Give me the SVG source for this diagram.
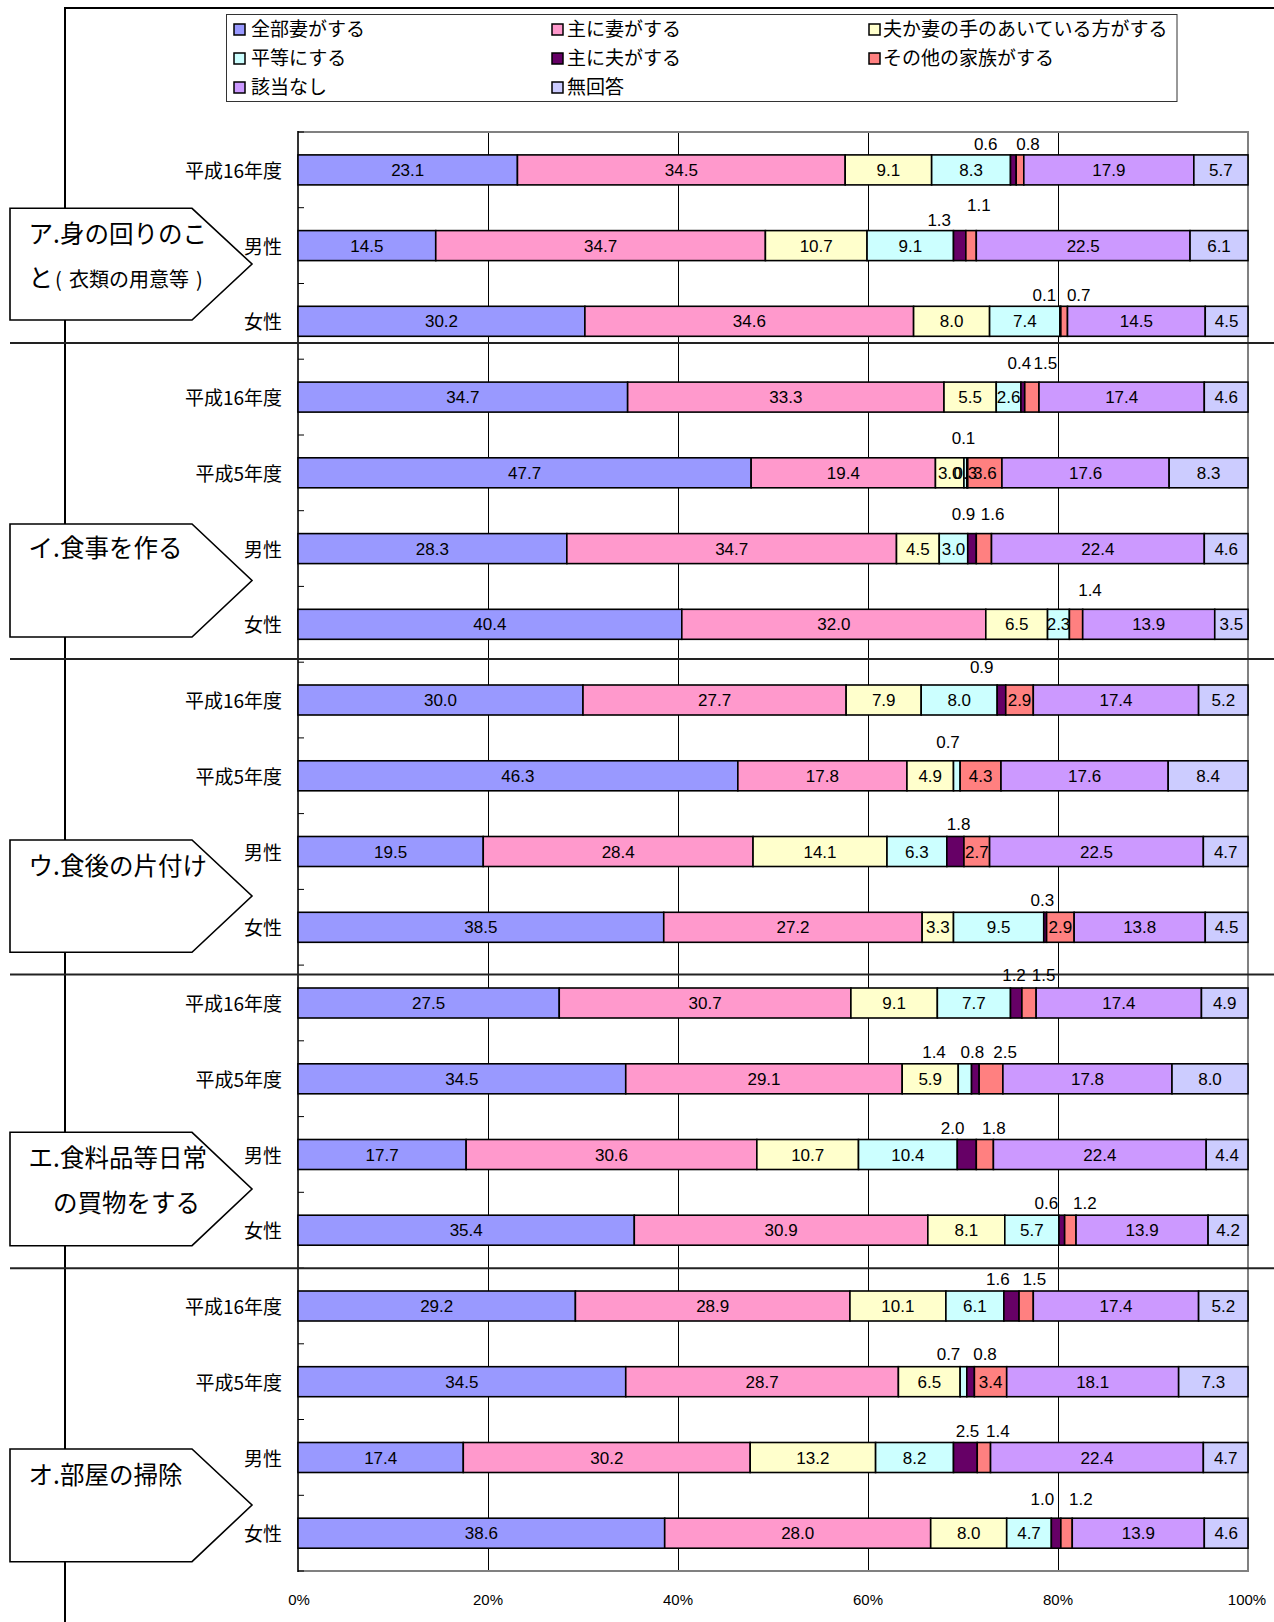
<svg xmlns="http://www.w3.org/2000/svg" width="1274" height="1622" viewBox="0 0 1274 1622">
<style>
.s1{fill:#9999FF}.s2{fill:#FF99CC}.s3{fill:#FFFFCC}.s4{fill:#CCFFFF}.s5{fill:#660066}.s6{fill:#FF8080}.s7{fill:#CC99FF}.s8{fill:#CCCCFF}
.bar rect{stroke:#000;stroke-width:1.6}
.v{font-family:"Liberation Sans",Arial,sans-serif;font-size:17px;text-anchor:middle;fill:#000}
.ax{font-family:"Liberation Sans",Arial,sans-serif;font-size:15px;text-anchor:middle;fill:#000}
.rl{font-family:"Noto Sans CJK JP",sans-serif;font-size:19px;text-anchor:end;fill:#000}
.lg{font-family:"Noto Sans CJK JP",sans-serif;font-size:19px;fill:#000}
.lgk{stroke:#000;stroke-width:1.5}
.cat{font-family:"Noto Sans CJK JP",sans-serif;font-size:24.5px;fill:#000}
.box{fill:#fff;stroke:#000;stroke-width:1.6}
.grid{stroke:#000;stroke-width:1}
.sep{stroke:#222;stroke-width:2}
</style>
<rect x="0" y="0" width="1274" height="1622" fill="#fff"/>
<g id="frame-lines">
<line x1="65" y1="8" x2="65" y2="1622" stroke="#000" stroke-width="2"/>
<line x1="64" y1="8" x2="1274" y2="8" stroke="#000" stroke-width="2"/>
</g>
<g id="legend">
<rect x="226.5" y="14.5" width="950.5" height="87" fill="#fff" stroke="#333" stroke-width="1"/>
<rect class="lgk s1" x="234" y="24" width="11" height="11"/><text class="lg" x="251" y="35.5">全部妻がする</text>
<rect class="lgk s2" x="552" y="24" width="11" height="11"/><text class="lg" x="567" y="35.5">主に妻がする</text>
<rect class="lgk s3" x="869" y="24" width="11" height="11"/><text class="lg" x="883" y="35.5">夫か妻の手のあいている方がする</text>
<rect class="lgk s4" x="234" y="53" width="11" height="11"/><text class="lg" x="251" y="64.5">平等にする</text>
<rect class="lgk s5" x="552" y="53" width="11" height="11"/><text class="lg" x="567" y="64.5">主に夫がする</text>
<rect class="lgk s6" x="869" y="53" width="11" height="11"/><text class="lg" x="883" y="64.5">その他の家族がする</text>
<rect class="lgk s7" x="234" y="82" width="11" height="11"/><text class="lg" x="251" y="93.5">該当なし</text>
<rect class="lgk s8" x="552" y="82" width="11" height="11"/><text class="lg" x="567" y="93.5">無回答</text>
</g>
<g id="plot-area">
<line class="grid" x1="488.5" y1="132" x2="488.5" y2="1571"/>
<line class="grid" x1="678.5" y1="132" x2="678.5" y2="1571"/>
<line class="grid" x1="868.5" y1="132" x2="868.5" y2="1571"/>
<line class="grid" x1="1058.5" y1="132" x2="1058.5" y2="1571"/>
<polyline points="298,132 1248,132 1248,1571 298,1571" fill="none" stroke="#808080" stroke-width="2"/>
<line x1="298" y1="131" x2="298" y2="1572" stroke="#000" stroke-width="1.6"/>
<path d="M298 132h6M298 207.7h6M298 283.5h6M298 359.2h6M298 435h6M298 510.7h6M298 586.4h6M298 662.2h6M298 737.9h6M298 813.6h6M298 889.4h6M298 965.1h6M298 1040.8h6M298 1116.6h6M298 1192.3h6M298 1268.1h6M298 1343.8h6M298 1419.5h6M298 1495.3h6M298 1571h6" stroke="#000" stroke-width="1"/>
<text class="ax" x="299" y="1605">0%</text>
<text class="ax" x="488" y="1605">20%</text>
<text class="ax" x="678" y="1605">40%</text>
<text class="ax" x="868" y="1605">60%</text>
<text class="ax" x="1058" y="1605">80%</text>
<text class="ax" x="1247" y="1605">100%</text>
</g>
<g id="row-labels">
<text class="rl" x="282" y="177.9">平成16年度</text>
<text class="rl" x="282" y="253.6">男性</text>
<text class="rl" x="282" y="329.3">女性</text>
<text class="rl" x="282" y="405.1">平成16年度</text>
<text class="rl" x="282" y="480.8">平成5年度</text>
<text class="rl" x="282" y="556.6">男性</text>
<text class="rl" x="282" y="632.3">女性</text>
<text class="rl" x="282" y="708">平成16年度</text>
<text class="rl" x="282" y="783.8">平成5年度</text>
<text class="rl" x="282" y="859.5">男性</text>
<text class="rl" x="282" y="935.3">女性</text>
<text class="rl" x="282" y="1011">平成16年度</text>
<text class="rl" x="282" y="1086.8">平成5年度</text>
<text class="rl" x="282" y="1162.5">男性</text>
<text class="rl" x="282" y="1238.2">女性</text>
<text class="rl" x="282" y="1314">平成16年度</text>
<text class="rl" x="282" y="1389.7">平成5年度</text>
<text class="rl" x="282" y="1465.5">男性</text>
<text class="rl" x="282" y="1541.2">女性</text>
</g>
<g id="bar-a-h16" class="bar">
<rect class="s1" x="298" y="154.9" width="219.45" height="30"/><rect class="s2" x="517.45" y="154.9" width="327.75" height="30"/><rect class="s3" x="845.2" y="154.9" width="86.45" height="30"/><rect class="s4" x="931.65" y="154.9" width="78.85" height="30"/><rect class="s5" x="1010.5" y="154.9" width="5.7" height="30"/><rect class="s6" x="1016.2" y="154.9" width="7.6" height="30"/><rect class="s7" x="1023.8" y="154.9" width="170.05" height="30"/><rect class="s8" x="1193.85" y="154.9" width="54.15" height="30"/>
<text class="v" x="407.7" y="175.9">23.1</text><text class="v" x="681.3" y="175.9">34.5</text><text class="v" x="888.4" y="175.9">9.1</text><text class="v" x="971.1" y="175.9">8.3</text><text class="v" x="1108.8" y="175.9">17.9</text><text class="v" x="1220.9" y="175.9">5.7</text>
<text class="v" x="985.7" y="150">0.6</text><text class="v" x="1028" y="150">0.8</text>
</g>
<g id="bar-a-m" class="bar">
<rect class="s1" x="298" y="230.6" width="137.75" height="30"/><rect class="s2" x="435.75" y="230.6" width="329.65" height="30"/><rect class="s3" x="765.4" y="230.6" width="101.65" height="30"/><rect class="s4" x="867.05" y="230.6" width="86.45" height="30"/><rect class="s5" x="953.5" y="230.6" width="12.35" height="30"/><rect class="s6" x="965.85" y="230.6" width="10.45" height="30"/><rect class="s7" x="976.3" y="230.6" width="213.75" height="30"/><rect class="s8" x="1190.05" y="230.6" width="57.95" height="30"/>
<text class="v" x="366.9" y="251.6">14.5</text><text class="v" x="600.6" y="251.6">34.7</text><text class="v" x="816.2" y="251.6">10.7</text><text class="v" x="910.3" y="251.6">9.1</text><text class="v" x="1083.2" y="251.6">22.5</text><text class="v" x="1219" y="251.6">6.1</text>
<text class="v" x="939.2" y="226">1.3</text><text class="v" x="978.9" y="211">1.1</text>
</g>
<g id="bar-a-f" class="bar">
<rect class="s1" x="298" y="306.3" width="286.9" height="30"/><rect class="s2" x="584.9" y="306.3" width="328.7" height="30"/><rect class="s3" x="913.6" y="306.3" width="76" height="30"/><rect class="s4" x="989.6" y="306.3" width="70.3" height="30"/><rect class="s5" x="1059.9" y="306.3" width="0.95" height="30"/><rect class="s6" x="1060.85" y="306.3" width="6.65" height="30"/><rect class="s7" x="1067.5" y="306.3" width="137.75" height="30"/><rect class="s8" x="1205.25" y="306.3" width="42.75" height="30"/>
<text class="v" x="441.5" y="327.3">30.2</text><text class="v" x="749.3" y="327.3">34.6</text><text class="v" x="951.6" y="327.3">8.0</text><text class="v" x="1024.8" y="327.3">7.4</text><text class="v" x="1136.4" y="327.3">14.5</text><text class="v" x="1226.6" y="327.3">4.5</text>
<text class="v" x="1044.4" y="301">0.1</text><text class="v" x="1078.7" y="301">0.7</text>
</g>
<g id="bar-i-h16" class="bar">
<rect class="s1" x="298" y="382.1" width="329.65" height="30"/><rect class="s2" x="627.65" y="382.1" width="316.35" height="30"/><rect class="s3" x="944" y="382.1" width="52.25" height="30"/><rect class="s4" x="996.25" y="382.1" width="24.7" height="30"/><rect class="s5" x="1020.95" y="382.1" width="3.8" height="30"/><rect class="s6" x="1024.75" y="382.1" width="14.25" height="30"/><rect class="s7" x="1039" y="382.1" width="165.3" height="30"/><rect class="s8" x="1204.3" y="382.1" width="43.7" height="30"/>
<text class="v" x="462.8" y="403.1">34.7</text><text class="v" x="785.8" y="403.1">33.3</text><text class="v" x="970.1" y="403.1">5.5</text><text class="v" x="1008.6" y="403.1">2.6</text><text class="v" x="1121.7" y="403.1">17.4</text><text class="v" x="1226.2" y="403.1">4.6</text>
<text class="v" x="1019.3" y="369">0.4</text><text class="v" x="1045.3" y="369">1.5</text>
</g>
<g id="bar-i-h5" class="bar">
<rect class="s1" x="298" y="457.8" width="453.15" height="30"/><rect class="s2" x="751.15" y="457.8" width="184.3" height="30"/><rect class="s3" x="935.45" y="457.8" width="28.5" height="30"/><rect class="s4" x="963.95" y="457.8" width="2.85" height="30"/><rect class="s5" x="966.8" y="457.8" width="0.95" height="30"/><rect class="s6" x="967.75" y="457.8" width="34.2" height="30"/><rect class="s7" x="1001.95" y="457.8" width="167.2" height="30"/><rect class="s8" x="1169.15" y="457.8" width="78.85" height="30"/>
<text class="v" x="524.6" y="478.8">47.7</text><text class="v" x="843.3" y="478.8">19.4</text><text class="v" x="949.7" y="478.8">3.0</text><text class="v" x="965.4" y="478.8">0.3</text><text class="v" x="984.9" y="478.8">3.6</text><text class="v" x="1085.6" y="478.8">17.6</text><text class="v" x="1208.6" y="478.8">8.3</text>
<text class="v" x="963.5" y="444">0.1</text>
</g>
<g id="bar-i-m" class="bar">
<rect class="s1" x="298" y="533.6" width="268.85" height="30"/><rect class="s2" x="566.85" y="533.6" width="329.65" height="30"/><rect class="s3" x="896.5" y="533.6" width="42.75" height="30"/><rect class="s4" x="939.25" y="533.6" width="28.5" height="30"/><rect class="s5" x="967.75" y="533.6" width="8.55" height="30"/><rect class="s6" x="976.3" y="533.6" width="15.2" height="30"/><rect class="s7" x="991.5" y="533.6" width="212.8" height="30"/><rect class="s8" x="1204.3" y="533.6" width="43.7" height="30"/>
<text class="v" x="432.4" y="554.6">28.3</text><text class="v" x="731.7" y="554.6">34.7</text><text class="v" x="917.9" y="554.6">4.5</text><text class="v" x="953.5" y="554.6">3.0</text><text class="v" x="1097.9" y="554.6">22.4</text><text class="v" x="1226.2" y="554.6">4.6</text>
<text class="v" x="963.5" y="520">0.9</text><text class="v" x="992.6" y="520">1.6</text>
</g>
<g id="bar-i-f" class="bar">
<rect class="s1" x="298" y="609.3" width="383.8" height="30"/><rect class="s2" x="681.8" y="609.3" width="304" height="30"/><rect class="s3" x="985.8" y="609.3" width="61.75" height="30"/><rect class="s4" x="1047.55" y="609.3" width="21.85" height="30"/><rect class="s6" x="1069.4" y="609.3" width="13.3" height="30"/><rect class="s7" x="1082.7" y="609.3" width="132.05" height="30"/><rect class="s8" x="1214.75" y="609.3" width="33.25" height="30"/>
<text class="v" x="489.9" y="630.3">40.4</text><text class="v" x="833.8" y="630.3">32.0</text><text class="v" x="1016.7" y="630.3">6.5</text><text class="v" x="1058.5" y="630.3">2.3</text><text class="v" x="1148.7" y="630.3">13.9</text><text class="v" x="1231.4" y="630.3">3.5</text>
<text class="v" x="1090" y="596">1.4</text>
</g>
<g id="bar-u-h16" class="bar">
<rect class="s1" x="298" y="685" width="285" height="30"/><rect class="s2" x="583" y="685" width="263.15" height="30"/><rect class="s3" x="846.15" y="685" width="75.05" height="30"/><rect class="s4" x="921.2" y="685" width="76" height="30"/><rect class="s5" x="997.2" y="685" width="8.55" height="30"/><rect class="s6" x="1005.75" y="685" width="27.55" height="30"/><rect class="s7" x="1033.3" y="685" width="165.3" height="30"/><rect class="s8" x="1198.6" y="685" width="49.4" height="30"/>
<text class="v" x="440.5" y="706">30.0</text><text class="v" x="714.6" y="706">27.7</text><text class="v" x="883.7" y="706">7.9</text><text class="v" x="959.2" y="706">8.0</text><text class="v" x="1019.5" y="706">2.9</text><text class="v" x="1116" y="706">17.4</text><text class="v" x="1223.3" y="706">5.2</text>
<text class="v" x="981.7" y="672.7">0.9</text>
</g>
<g id="bar-u-h5" class="bar">
<rect class="s1" x="298" y="760.8" width="439.85" height="30"/><rect class="s2" x="737.85" y="760.8" width="169.1" height="30"/><rect class="s3" x="906.95" y="760.8" width="46.55" height="30"/><rect class="s4" x="953.5" y="760.8" width="6.65" height="30"/><rect class="s6" x="960.15" y="760.8" width="40.85" height="30"/><rect class="s7" x="1001" y="760.8" width="167.2" height="30"/><rect class="s8" x="1168.2" y="760.8" width="79.8" height="30"/>
<text class="v" x="517.9" y="781.8">46.3</text><text class="v" x="822.4" y="781.8">17.8</text><text class="v" x="930.2" y="781.8">4.9</text><text class="v" x="980.6" y="781.8">4.3</text><text class="v" x="1084.6" y="781.8">17.6</text><text class="v" x="1208.1" y="781.8">8.4</text>
<text class="v" x="948" y="747.7">0.7</text>
</g>
<g id="bar-u-m" class="bar">
<rect class="s1" x="298" y="836.5" width="185.25" height="30"/><rect class="s2" x="483.25" y="836.5" width="269.8" height="30"/><rect class="s3" x="753.05" y="836.5" width="133.95" height="30"/><rect class="s4" x="887" y="836.5" width="59.85" height="30"/><rect class="s5" x="946.85" y="836.5" width="17.1" height="30"/><rect class="s6" x="963.95" y="836.5" width="25.65" height="30"/><rect class="s7" x="989.6" y="836.5" width="213.75" height="30"/><rect class="s8" x="1203.35" y="836.5" width="44.65" height="30"/>
<text class="v" x="390.6" y="857.5">19.5</text><text class="v" x="618.2" y="857.5">28.4</text><text class="v" x="820" y="857.5">14.1</text><text class="v" x="916.9" y="857.5">6.3</text><text class="v" x="976.8" y="857.5">2.7</text><text class="v" x="1096.5" y="857.5">22.5</text><text class="v" x="1225.7" y="857.5">4.7</text>
<text class="v" x="958.6" y="830.3">1.8</text>
</g>
<g id="bar-u-f" class="bar">
<rect class="s1" x="298" y="912.3" width="365.75" height="30"/><rect class="s2" x="663.75" y="912.3" width="258.4" height="30"/><rect class="s3" x="922.15" y="912.3" width="31.35" height="30"/><rect class="s4" x="953.5" y="912.3" width="90.25" height="30"/><rect class="s5" x="1043.75" y="912.3" width="2.85" height="30"/><rect class="s6" x="1046.6" y="912.3" width="27.55" height="30"/><rect class="s7" x="1074.15" y="912.3" width="131.1" height="30"/><rect class="s8" x="1205.25" y="912.3" width="42.75" height="30"/>
<text class="v" x="480.9" y="933.3">38.5</text><text class="v" x="793" y="933.3">27.2</text><text class="v" x="937.8" y="933.3">3.3</text><text class="v" x="998.6" y="933.3">9.5</text><text class="v" x="1060.4" y="933.3">2.9</text><text class="v" x="1139.7" y="933.3">13.8</text><text class="v" x="1226.6" y="933.3">4.5</text>
<text class="v" x="1042.3" y="906">0.3</text>
</g>
<g id="bar-e-h16" class="bar">
<rect class="s1" x="298" y="988" width="261.25" height="30"/><rect class="s2" x="559.25" y="988" width="291.65" height="30"/><rect class="s3" x="850.9" y="988" width="86.45" height="30"/><rect class="s4" x="937.35" y="988" width="73.15" height="30"/><rect class="s5" x="1010.5" y="988" width="11.4" height="30"/><rect class="s6" x="1021.9" y="988" width="14.25" height="30"/><rect class="s7" x="1036.15" y="988" width="165.3" height="30"/><rect class="s8" x="1201.45" y="988" width="46.55" height="30"/>
<text class="v" x="428.6" y="1009">27.5</text><text class="v" x="705.1" y="1009">30.7</text><text class="v" x="894.1" y="1009">9.1</text><text class="v" x="973.9" y="1009">7.7</text><text class="v" x="1118.8" y="1009">17.4</text><text class="v" x="1224.7" y="1009">4.9</text>
</g>
<g id="bar-e-h5" class="bar">
<rect class="s1" x="298" y="1063.8" width="327.75" height="30"/><rect class="s2" x="625.75" y="1063.8" width="276.45" height="30"/><rect class="s3" x="902.2" y="1063.8" width="56.05" height="30"/><rect class="s4" x="958.25" y="1063.8" width="13.3" height="30"/><rect class="s5" x="971.55" y="1063.8" width="7.6" height="30"/><rect class="s6" x="979.15" y="1063.8" width="23.75" height="30"/><rect class="s7" x="1002.9" y="1063.8" width="169.1" height="30"/><rect class="s8" x="1172" y="1063.8" width="76" height="30"/>
<text class="v" x="461.9" y="1084.8">34.5</text><text class="v" x="764" y="1084.8">29.1</text><text class="v" x="930.2" y="1084.8">5.9</text><text class="v" x="1087.5" y="1084.8">17.8</text><text class="v" x="1210" y="1084.8">8.0</text>
<text class="v" x="934" y="1058.3">1.4</text><text class="v" x="972.4" y="1058.3">0.8</text><text class="v" x="1005.1" y="1058.3">2.5</text>
</g>
<g id="bar-e-m" class="bar">
<rect class="s1" x="298" y="1139.5" width="168.15" height="30"/><rect class="s2" x="466.15" y="1139.5" width="290.7" height="30"/><rect class="s3" x="756.85" y="1139.5" width="101.65" height="30"/><rect class="s4" x="858.5" y="1139.5" width="98.8" height="30"/><rect class="s5" x="957.3" y="1139.5" width="19" height="30"/><rect class="s6" x="976.3" y="1139.5" width="17.1" height="30"/><rect class="s7" x="993.4" y="1139.5" width="212.8" height="30"/><rect class="s8" x="1206.2" y="1139.5" width="41.8" height="30"/>
<text class="v" x="382.1" y="1160.5">17.7</text><text class="v" x="611.5" y="1160.5">30.6</text><text class="v" x="807.7" y="1160.5">10.7</text><text class="v" x="907.9" y="1160.5">10.4</text><text class="v" x="1099.8" y="1160.5">22.4</text><text class="v" x="1227.1" y="1160.5">4.4</text>
<text class="v" x="952.6" y="1133.7">2.0</text><text class="v" x="993.8" y="1133.7">1.8</text>
</g>
<g id="bar-e-f" class="bar">
<rect class="s1" x="298" y="1215.2" width="336.3" height="30"/><rect class="s2" x="634.3" y="1215.2" width="293.55" height="30"/><rect class="s3" x="927.85" y="1215.2" width="76.95" height="30"/><rect class="s4" x="1004.8" y="1215.2" width="54.15" height="30"/><rect class="s5" x="1058.95" y="1215.2" width="5.7" height="30"/><rect class="s6" x="1064.65" y="1215.2" width="11.4" height="30"/><rect class="s7" x="1076.05" y="1215.2" width="132.05" height="30"/><rect class="s8" x="1208.1" y="1215.2" width="39.9" height="30"/>
<text class="v" x="466.2" y="1236.2">35.4</text><text class="v" x="781.1" y="1236.2">30.9</text><text class="v" x="966.3" y="1236.2">8.1</text><text class="v" x="1031.9" y="1236.2">5.7</text><text class="v" x="1142.1" y="1236.2">13.9</text><text class="v" x="1228.1" y="1236.2">4.2</text>
<text class="v" x="1046.4" y="1209.3">0.6</text><text class="v" x="1084.8" y="1209.3">1.2</text>
</g>
<g id="bar-o-h16" class="bar">
<rect class="s1" x="298" y="1291" width="277.4" height="30"/><rect class="s2" x="575.4" y="1291" width="274.55" height="30"/><rect class="s3" x="849.95" y="1291" width="95.95" height="30"/><rect class="s4" x="945.9" y="1291" width="57.95" height="30"/><rect class="s5" x="1003.85" y="1291" width="15.2" height="30"/><rect class="s6" x="1019.05" y="1291" width="14.25" height="30"/><rect class="s7" x="1033.3" y="1291" width="165.3" height="30"/><rect class="s8" x="1198.6" y="1291" width="49.4" height="30"/>
<text class="v" x="436.7" y="1312">29.2</text><text class="v" x="712.7" y="1312">28.9</text><text class="v" x="897.9" y="1312">10.1</text><text class="v" x="974.9" y="1312">6.1</text><text class="v" x="1116" y="1312">17.4</text><text class="v" x="1223.3" y="1312">5.2</text>
<text class="v" x="997.9" y="1285">1.6</text><text class="v" x="1034.3" y="1285">1.5</text>
</g>
<g id="bar-o-h5" class="bar">
<rect class="s1" x="298" y="1366.7" width="327.75" height="30"/><rect class="s2" x="625.75" y="1366.7" width="272.65" height="30"/><rect class="s3" x="898.4" y="1366.7" width="61.75" height="30"/><rect class="s4" x="960.15" y="1366.7" width="6.65" height="30"/><rect class="s5" x="966.8" y="1366.7" width="7.6" height="30"/><rect class="s6" x="974.4" y="1366.7" width="32.3" height="30"/><rect class="s7" x="1006.7" y="1366.7" width="171.95" height="30"/><rect class="s8" x="1178.65" y="1366.7" width="69.35" height="30"/>
<text class="v" x="461.9" y="1387.7">34.5</text><text class="v" x="762.1" y="1387.7">28.7</text><text class="v" x="929.3" y="1387.7">6.5</text><text class="v" x="990.6" y="1387.7">3.4</text><text class="v" x="1092.7" y="1387.7">18.1</text><text class="v" x="1213.3" y="1387.7">7.3</text>
<text class="v" x="948.5" y="1360.3">0.7</text><text class="v" x="985" y="1360.3">0.8</text>
</g>
<g id="bar-o-m" class="bar">
<rect class="s1" x="298" y="1442.5" width="165.3" height="30"/><rect class="s2" x="463.3" y="1442.5" width="286.9" height="30"/><rect class="s3" x="750.2" y="1442.5" width="125.4" height="30"/><rect class="s4" x="875.6" y="1442.5" width="77.9" height="30"/><rect class="s5" x="953.5" y="1442.5" width="23.75" height="30"/><rect class="s6" x="977.25" y="1442.5" width="13.3" height="30"/><rect class="s7" x="990.55" y="1442.5" width="212.8" height="30"/><rect class="s8" x="1203.35" y="1442.5" width="44.65" height="30"/>
<text class="v" x="380.7" y="1463.5">17.4</text><text class="v" x="606.8" y="1463.5">30.2</text><text class="v" x="812.9" y="1463.5">13.2</text><text class="v" x="914.6" y="1463.5">8.2</text><text class="v" x="1097" y="1463.5">22.4</text><text class="v" x="1225.7" y="1463.5">4.7</text>
<text class="v" x="967.5" y="1437">2.5</text><text class="v" x="997.9" y="1437">1.4</text>
</g>
<g id="bar-o-f" class="bar">
<rect class="s1" x="298" y="1518.2" width="366.7" height="30"/><rect class="s2" x="664.7" y="1518.2" width="266" height="30"/><rect class="s3" x="930.7" y="1518.2" width="76" height="30"/><rect class="s4" x="1006.7" y="1518.2" width="44.65" height="30"/><rect class="s5" x="1051.35" y="1518.2" width="9.5" height="30"/><rect class="s6" x="1060.85" y="1518.2" width="11.4" height="30"/><rect class="s7" x="1072.25" y="1518.2" width="132.05" height="30"/><rect class="s8" x="1204.3" y="1518.2" width="43.7" height="30"/>
<text class="v" x="481.4" y="1539.2">38.6</text><text class="v" x="797.7" y="1539.2">28.0</text><text class="v" x="968.7" y="1539.2">8.0</text><text class="v" x="1029" y="1539.2">4.7</text><text class="v" x="1138.3" y="1539.2">13.9</text><text class="v" x="1226.2" y="1539.2">4.6</text>
<text class="v" x="1042.3" y="1505">1.0</text><text class="v" x="1080.8" y="1505">1.2</text>
</g>
<g id="separators">
<line class="sep" x1="10" y1="343" x2="1274" y2="343"/>
<line class="sep" x1="10" y1="659" x2="1274" y2="659"/>
<line class="sep" x1="10" y1="974.5" x2="1274" y2="974.5"/>
<line class="sep" x1="10" y1="1268.3" x2="1274" y2="1268.3"/>
</g>
<g id="late-labels">
<text class="v" x="1014" y="981">1.2</text><text class="v" x="1043.6" y="981">1.5</text>
</g>
<g id="cat-a">
<polygon class="box" points="10,208.3 192,208.3 252,264 192,320 10,320"/>
<text class="cat" x="28.6" y="243">ア.身の回りのこ</text>
<text class="cat" x="28.6" y="287">と<tspan font-size="20" x="55">(</tspan><tspan font-size="20" x="69">衣類の用意等</tspan><tspan font-size="20" x="196">)</tspan></text>
</g>
<g id="cat-i">
<polygon class="box" points="10,524 192,524 252,580.5 192,637 10,637"/>
<text class="cat" x="28.6" y="557">イ.食事を作る</text>
</g>
<g id="cat-u">
<polygon class="box" points="10,840 192,840 252,896 192,952.3 10,952.3"/>
<text class="cat" x="28.6" y="874.5">ウ.食後の片付け</text>
</g>
<g id="cat-e">
<polygon class="box" points="10,1132.3 192,1132.3 252,1189 192,1245.7 10,1245.7"/>
<text class="cat" x="28.6" y="1166.5">エ.食料品等日常</text>
<text class="cat" x="53" y="1211.5">の買物をする</text>
</g>
<g id="cat-o">
<polygon class="box" points="10,1449 192,1449 252,1505 192,1561.7 10,1561.7"/>
<text class="cat" x="28.6" y="1483.5">オ.部屋の掃除</text>
</g>
</svg>
